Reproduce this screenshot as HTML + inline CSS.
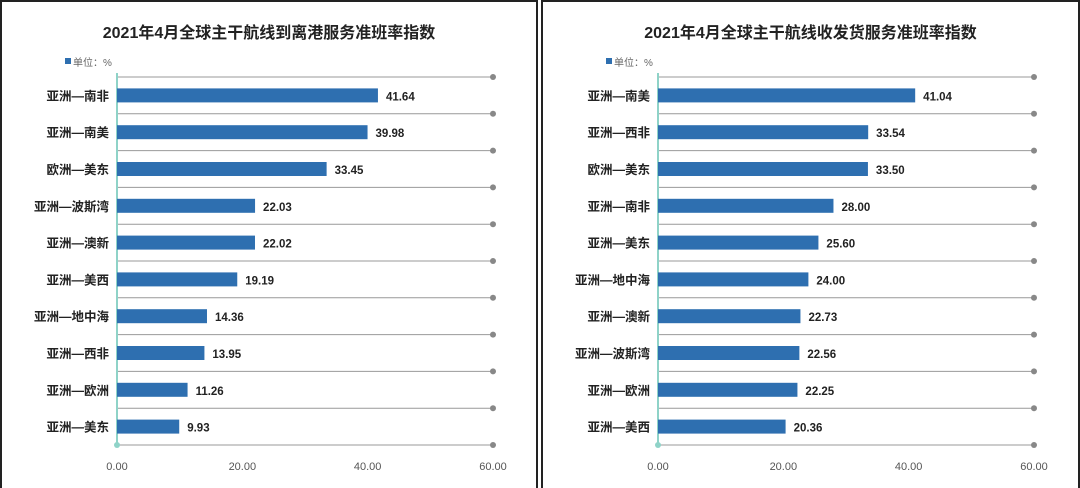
<!DOCTYPE html>
<html><head><meta charset="utf-8"><style>
body{margin:0;width:1080px;height:488px;background:#fff;overflow:hidden;font-family:"Liberation Sans","Noto Sans CJK SC",sans-serif;}
svg{display:block}
</style></head><body>
<svg id="s" width="1080" height="488"></svg>
<script>
const leftCats=["亚洲—南非","亚洲—南美","欧洲—美东","亚洲—波斯湾","亚洲—澳新","亚洲—美西","亚洲—地中海","亚洲—西非","亚洲—欧洲","亚洲—美东"];
const leftVals=[41.64,39.98,33.45,22.03,22.02,19.19,14.36,13.95,11.26,9.93];
const rightCats=["亚洲—南美","亚洲—西非","欧洲—美东","亚洲—南非","亚洲—美东","亚洲—地中海","亚洲—澳新","亚洲—波斯湾","亚洲—欧洲","亚洲—美西"];
const rightVals=[41.04,33.54,33.50,28.00,25.60,24.00,22.73,22.56,22.25,20.36];
const ticks=[0,20,40,60];
const tickLabels=["0.00","20.00","40.00","60.00"];
const titles=["2021年4月全球主干航线到离港服务准班率指数","2021年4月全球主干航线收发货服务准班率指数"];
const NS="http://www.w3.org/2000/svg";
const svg=document.getElementById('s');
function mk(t,a,p){const e=document.createElementNS(NS,t);for(const k in a)e.setAttribute(k,a[k]);(p||svg).appendChild(e);return e;}
function panel(px,pw,ax,cats,vals,title,idx){
  const g=mk('g',{});
  
  
  const fr=mk('rect',{x:px+1,y:1,width:pw-2,height:495,fill:'#fff',stroke:'#222','stroke-width':2},g);
  
  
  const cx=px+pw/2;
  const t=mk('text',{x:cx,y:38,'text-anchor':'middle','font-size':16,'font-weight':'bold',fill:'#222'},g);
  t.textContent=title;
  
  
  const lg=mk('g',{},g);
  
  
  mk('rect',{x:ax-52,y:58,width:6,height:6,fill:'#2e6fb0'},lg);
  const lt=mk('text',{x:ax-44,y:66,'font-size':10,fill:'#666'},lg);lt.textContent='单位：%';
  const x=v=>ax+v*(376/60);
  const top=77,step=36.8,n=cats.length;
  for(let i=0;i<=n;i++){
    const y=top+i*step;
    const gl=mk('line',{x1:ax,x2:x(60),y1:y,y2:y,stroke:'#999','stroke-width':1},g);
    
    
    mk('circle',{cx:x(60),cy:y,r:3,fill:'#888'},g);
  }
  const axl=mk('line',{x1:ax,x2:ax,y1:top-4,y2:top+n*step,stroke:'#8fd3c8','stroke-width':2},g);
  
  
  mk('circle',{cx:ax,cy:top+n*step,r:3,fill:'#8fd3c8'},g);
  cats.forEach((c,i)=>{
    const yc=top+i*step+step/2;
    const l=mk('text',{x:ax-8,y:yc+5,'text-anchor':'end','font-size':12.5,'font-weight':'bold',fill:'#222'},g);
    l.textContent=c;
    
    
    const b=mk('rect',{x:ax,y:yc-7,width:x(vals[i])-ax,height:14,fill:'#2e6fb0'},g);
    
    
    const v=mk('text',{x:x(vals[i])+8,y:yc+5,'font-size':11.5,'font-weight':'bold',fill:'#222'},g);
    v.textContent=vals[i].toFixed(2);
    
    
  });
  ticks.forEach((tv,i)=>{
    const tl=mk('text',{x:x(tv),y:470,'text-anchor':'middle','font-size':11,fill:'#555'},g);
    tl.textContent=tickLabels[i];
    
    
  });
}
panel(0,538,117,leftCats,leftVals,titles[0],'left');
panel(541,539,658,rightCats,rightVals,titles[1],'right');
</script>
</body></html>
